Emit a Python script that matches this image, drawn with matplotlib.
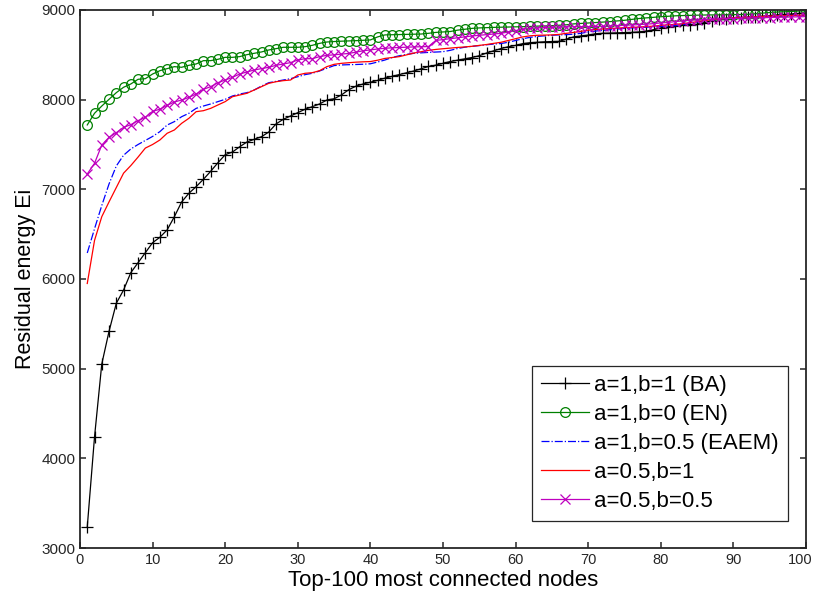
import numpy as np
import matplotlib
matplotlib.use("Agg")
import matplotlib.pyplot as plt
import matplotlib.transforms as mtransforms

plt.rcParams['font.family'] = ['Liberation Sans', 'DejaVu Sans']

# node rank 1..100
nodes = np.arange(1, 101)

ba = [3234, 4238, 5052, 5417, 5729, 5877, 6071, 6182, 6293, 6405,
      6465, 6547, 6695, 6859, 6956, 7030, 7112, 7201, 7297, 7386,
      7416, 7475, 7528, 7558, 7587, 7639, 7729, 7781, 7818, 7855,
      7893, 7922, 7952, 7996, 8010, 8052, 8110, 8150, 8175, 8195,
      8215, 8240, 8260, 8280, 8300, 8320, 8345, 8370, 8385, 8405,
      8425, 8440, 8455, 8470, 8490, 8520, 8545, 8570, 8590, 8605,
      8625, 8635, 8640, 8645, 8648, 8650, 8675, 8700, 8710, 8720,
      8735, 8740, 8742, 8745, 8748, 8750, 8755, 8765, 8780, 8800,
      8810, 8825, 8835, 8838, 8840, 8860, 8880, 8895, 8905, 8910,
      8915, 8920, 8925, 8930, 8938, 8944, 8950, 8955, 8962, 8968]

en = [7718, 7848, 7929, 8004, 8078, 8138, 8175, 8227, 8234, 8286,
      8323, 8346, 8368, 8361, 8383, 8398, 8435, 8435, 8450, 8472,
      8472, 8480, 8502, 8517, 8532, 8554, 8569, 8584, 8584, 8584,
      8591, 8606, 8628, 8643, 8648, 8652, 8655, 8658, 8662, 8666,
      8700, 8722, 8724, 8726, 8728, 8730, 8732, 8740, 8750, 8755,
      8760, 8775, 8785, 8795, 8800, 8803, 8806, 8808, 8810, 8812,
      8814, 8816, 8820, 8822, 8825, 8830, 8835, 8845, 8850, 8855,
      8860, 8865, 8870, 8878, 8885, 8895, 8905, 8912, 8918, 8925,
      8930, 8935, 8938, 8940, 8942, 8944, 8945, 8946, 8947, 8948,
      8950, 8952, 8958, 8965, 8972, 8977, 8980, 8984, 8988, 8992]

eaem = [6290, 6560, 6820, 7060, 7260, 7380, 7450, 7500, 7545, 7590,
        7643, 7717, 7755, 7810, 7848, 7903, 7929, 7952, 7978, 8004,
        8041, 8063, 8078, 8108, 8152, 8189, 8204, 8219, 8234, 8256,
        8279, 8294, 8320, 8350, 8380, 8387, 8390, 8392, 8395, 8400,
        8420, 8442, 8470, 8490, 8505, 8517, 8522, 8527, 8531, 8535,
        8550, 8570, 8585, 8595, 8603, 8612, 8620, 8626, 8640, 8660,
        8680, 8695, 8705, 8712, 8718, 8722, 8725, 8730, 8740, 8755,
        8765, 8772, 8780, 8788, 8795, 8800, 8804, 8808, 8812, 8816,
        8820, 8825, 8835, 8850, 8865, 8880, 8890, 8898, 8905, 8910,
        8914, 8918, 8922, 8926, 8930, 8934, 8937, 8940, 8943, 8946]

a05_b1 = [5950, 6430, 6695, 6860, 7020, 7180, 7265, 7360, 7460, 7500,
          7550, 7625, 7662, 7736, 7792, 7866, 7877, 7903, 7941, 7978,
          8033, 8052, 8071, 8108, 8145, 8182, 8200, 8212, 8219, 8275,
          8294, 8301, 8323, 8368, 8394, 8405, 8412, 8418, 8422, 8425,
          8440, 8460, 8470, 8480, 8500, 8520, 8535, 8550, 8560, 8568,
          8575, 8582, 8588, 8595, 8605, 8615, 8628, 8640, 8660, 8680,
          8700, 8712, 8718, 8720, 8722, 8728, 8740, 8750, 8762, 8775,
          8782, 8788, 8793, 8798, 8803, 8806, 8810, 8815, 8820, 8828,
          8835, 8840, 8848, 8858, 8870, 8882, 8892, 8900, 8906, 8912,
          8916, 8920, 8924, 8928, 8932, 8935, 8938, 8940, 8942, 8944]

a05_b05 = [7171, 7290, 7494, 7580, 7632, 7691, 7721, 7766, 7803, 7870,
           7893, 7937, 7974, 7996, 8026, 8063, 8115, 8145, 8189, 8219,
           8249, 8286, 8309, 8331, 8346, 8361, 8383, 8398, 8413, 8442,
           8457, 8457, 8480, 8494, 8500, 8508, 8515, 8530, 8545, 8555,
           8565, 8573, 8578, 8582, 8585, 8588, 8590, 8592, 8660, 8670,
           8680, 8690, 8700, 8710, 8718, 8725, 8732, 8740, 8755, 8770,
           8785, 8795, 8800, 8805, 8808, 8810, 8812, 8813, 8814, 8815,
           8816, 8818, 8822, 8826, 8830, 8833, 8837, 8842, 8848, 8855,
           8862, 8870, 8878, 8885, 8890, 8895, 8898, 8900, 8903, 8905,
           8908, 8910, 8912, 8914, 8916, 8918, 8920, 8922, 8924, 8926]

labels = ['a=1,b=1 (BA)', 'a=1,b=0 (EN)', 'a=1,b=0.5 (EAEM)',
          'a=0.5,b=1', 'a=0.5,b=0.5']

fig = plt.figure(figsize=(8.13, 5.98), dpi=100)
ax = fig.add_axes([0.0984, 0.0836, 0.893, 0.8997])

ax.plot(nodes, ba, color='k', lw=0.9, marker='+', ms=8, mew=0.9, label=labels[0])
ax.plot(nodes, en, color='#008000', lw=0.9, marker='o', ms=7, mfc='none',
        mew=0.9, label=labels[1])
ax.plot(nodes, eaem, color='b', lw=0.9, ls='-.', label=labels[2])
ax.plot(nodes, a05_b1, color='r', lw=0.9, label=labels[3])
ax.plot(nodes, a05_b05, color='m', lw=0.9, marker='x', ms=7, mew=0.9, label=labels[4])

ax.set_xlim(0, 100)
ax.set_ylim(3000, 9000)
ax.set_xticks(np.arange(0, 101, 10))
ax.set_yticks(np.arange(3000, 9001, 1000))

ax.tick_params(direction='in', top=True, right=True, length=4, width=1.1,
               labelsize=11, colors='#262626')
ax.tick_params(axis='x', labelsize=10.5)
# keep the last x tick label inside the figure
last = ax.get_xticklabels()[-1]
last.set_transform(last.get_transform() +
                   mtransforms.ScaledTranslation(-6 / 100, 0, fig.dpi_scale_trans))
for sp in ax.spines.values():
    sp.set_linewidth(1.3)
    sp.set_color('#262626')

ax.set_xlabel('Top-100 most connected nodes', fontsize=16, labelpad=2)
ax.set_ylabel('Residual energy Ei', fontsize=15.5, labelpad=4)

leg = ax.legend(loc='lower right', bbox_to_anchor=(0.975, 0.05), fontsize=16,
                frameon=True, fancybox=False, framealpha=1, edgecolor='#262626',
                numpoints=1, handlelength=2.16, labelspacing=0.36, borderpad=0.4,
                handletextpad=0.25, borderaxespad=0)
leg.get_frame().set_linewidth(0.9)

fig.savefig('out.png', dpi=100)
